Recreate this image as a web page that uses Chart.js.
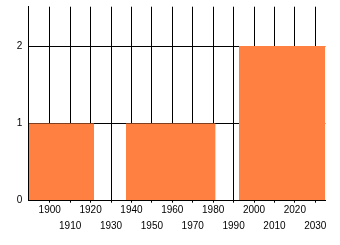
<!DOCTYPE html>
<html>
<head>
<meta charset="utf-8">
<script src="https://cdn.jsdelivr.net/npm/chart.js@4"></script>
<style>
  html, body { margin: 0; padding: 0; background: #fff; }
  #wrap { width: 340px; height: 245px; }
</style>
</head>
<body>
<div id="wrap"><canvas id="histChart"></canvas></div>
<script>
// histogram bins (years on x, count on y)
const binStart = [1889.5, 1937.3, 1992.6];
const binEnd = [1921.7, 1981.2, 2034.9];
const binCount = [1, 1, 2];

const yearTicks = [1900, 1910, 1920, 1930, 1940, 1950, 1960, 1970, 1980, 1990, 2000, 2010, 2020, 2030];
const countTicks = [0, 1, 2];

const xMin = 1889.5;
const xMax = 2034.9;
const yMax = 2.51;

const barColor = '#FF8040';

// one filled segment per bin, filled down to zero
const datasets = binStart.map((s, i) => ({
    data: [{ x: s, y: binCount[i] }, { x: binEnd[i], y: binCount[i] }],
    borderColor: 'rgba(0,0,0,0)',
    borderWidth: 0,
    backgroundColor: barColor,
    fill: 'origin',
    pointRadius: 0,
    tension: 0
}));

const tickFont = { family: 'Liberation Sans', size: 10, lineHeight: 1.6 };

// fixed axis sizes so the plot area lands where the reference has it
function fixSize(w, h) {
    return function(axis) {
        if (w !== null) axis.width = w;
        if (h !== null) axis.height = h;
        axis.paddingLeft = 0;
        axis.paddingRight = 0;
        axis.paddingTop = 0;
        axis.paddingBottom = 0;
    };
}

new Chart(document.getElementById('histChart').getContext('2d'), {
    type: 'line',
    data: { datasets: datasets },
    options: {
        responsive: true,
        maintainAspectRatio: false,
        animation: false,
        layout: { padding: { left: 16.3, right: 14.7, top: 6.7, bottom: 10.3 } },
        plugins: { legend: { display: false }, tooltip: { enabled: false } },
        scales: {
            x: {
                type: 'linear',
                bounds: 'data',
                min: xMin,
                max: xMax,
                afterBuildTicks: (axis) => { axis.ticks = yearTicks.map(v => ({ value: v })); },
                afterFit: fixSize(null, 34),
                grid: { color: '#000', lineWidth: 1, drawTicks: true, tickLength: 2 },
                border: { display: true, color: '#000', width: 1, z: 1 },
                ticks: {
                    color: '#000',
                    font: tickFont,
                    padding: 0,
                    maxRotation: 0,
                    autoSkip: false,
                    callback: function(value, index) {
                        return index % 2 === 0 ? String(value) : ['', String(value)];
                    }
                }
            },
            y: {
                type: 'linear',
                bounds: 'data',
                min: 0,
                max: yMax,
                afterBuildTicks: (axis) => { axis.ticks = countTicks.map(v => ({ value: v })); },
                afterFit: fixSize(12, null),
                grid: { color: '#000', lineWidth: 1, drawTicks: false },
                border: { display: true, color: '#000', width: 1, z: 1 },
                ticks: { color: '#000', font: { family: 'Liberation Sans', size: 10 }, padding: 6 }
            }
        }
    }
});
</script>
</body>
</html>
